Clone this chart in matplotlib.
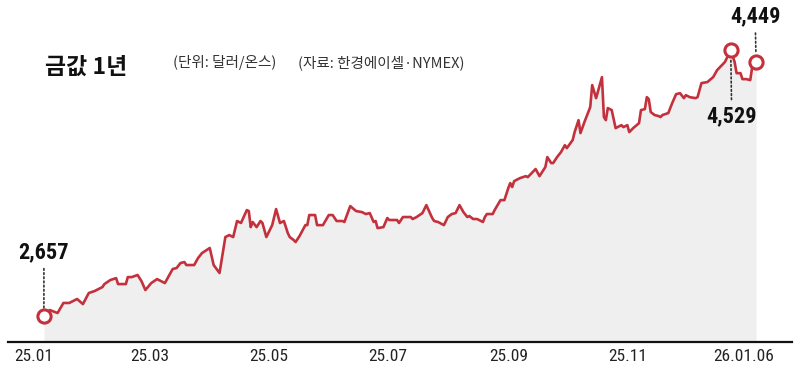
import matplotlib
matplotlib.use("Agg")
import matplotlib.pyplot as plt
from matplotlib import font_manager
from matplotlib.transforms import ScaledTranslation

# ------------------------------------------------------------------
# DATI: prezzo dell'oro (dollari/oncia), giorni dal 2025-01-01
# ------------------------------------------------------------------
days = [5, 8, 12, 15, 18, 22, 25, 28, 31, 35, 36, 39, 42, 43, 47, 48, 50, 53, 55, 57,
        60, 63, 67, 71, 73, 75, 77, 78, 82, 84, 86, 90, 92, 95, 98, 100, 102, 104, 106,
        109, 110, 111, 112, 114, 116, 117, 119, 122, 124, 126, 128, 130, 131, 133, 134,
        136, 139, 140, 141, 144, 145, 148, 151, 153, 155, 158, 159, 162, 165, 168, 170,
        172, 174, 175, 176, 179, 181, 182, 186, 187, 189, 193, 194, 196, 199, 201, 204,
        205, 207, 210, 212, 214, 216, 218, 220, 222, 223, 225, 227, 230, 231, 232, 235,
        236, 239, 241, 243, 244, 245, 246, 249, 252, 253, 256, 257, 259, 262, 263, 265,
        266, 268, 270, 272, 273, 276, 277, 279, 280, 282, 285, 286, 288, 291, 292, 293,
        294, 296, 298, 299, 301, 302, 304, 305, 307, 310, 311, 313, 314, 315, 316, 318,
        320, 321, 322, 325, 327, 329, 331, 333, 334, 336, 339, 340, 342, 345, 348, 350,
        354, 357, 359, 360, 362, 363, 365, 367, 368, 370]
price = [2657, 2699, 2678, 2749, 2749, 2777, 2741, 2819, 2833, 2861, 2882, 2910, 2924, 2882,
         2882, 2931, 2931, 2946, 2903, 2840, 2889, 2917, 2889, 2988, 2995, 3030, 3037, 3016,
         3016, 3065, 3100, 3136, 3016, 2960, 3213, 3227, 3213, 3326, 3312, 3403, 3396, 3283,
         3319, 3283, 3326, 3312, 3213, 3297, 3410, 3312, 3326, 3241, 3213, 3192, 3178, 3220,
         3297, 3297, 3368, 3368, 3297, 3297, 3368, 3368, 3326, 3326, 3319, 3431, 3396, 3389,
         3375, 3382, 3319, 3326, 3276, 3283, 3347, 3333, 3333, 3312, 3354, 3354, 3340, 3354,
         3382, 3438, 3347, 3326, 3319, 3297, 3354, 3375, 3382, 3438, 3389, 3354, 3361, 3340,
         3340, 3319, 3354, 3375, 3375, 3403, 3473, 3473, 3558, 3593, 3565, 3607, 3628, 3642,
         3635, 3678, 3692, 3642, 3706, 3776, 3734, 3734, 3776, 3811, 3860, 3839, 3896, 3952,
         4036, 3945, 4022, 4128, 4283, 4191, 4339, 4058, 4036, 4121, 4107, 3980, 3987, 4001,
         3987, 4001, 3952, 3980, 4015, 4107, 4114, 4198, 4184, 4093, 4072, 4065, 4058, 4072,
         4086, 4156, 4219, 4226, 4191, 4212, 4198, 4191, 4198, 4297, 4304, 4339, 4388, 4445,
         4529, 4445, 4367, 4367, 4325, 4325, 4318, 4409, 4449]

tick_days = [0, 59, 120, 181, 243, 304, 370]
tick_labels = ["25.01", "25.03", "25.05", "25.07", "25.09", "25.11", "26.01.06"]

title = "금값 1년"
unit_note = "(단위: 달러/온스)"
source_note = "(자료: 한경에이셀·NYMEX)"

# ------------------------------------------------------------------
# FONT
# ------------------------------------------------------------------
names = {f.name for f in font_manager.fontManager.ttflist}
num_font = "Liberation Sans"
for cand in ["Roboto Condensed", "Archivo Narrow", "Liberation Sans Narrow",
             "Barlow Semi Condensed"]:
    if cand in names:
        num_font = cand
        break
kr_font = ["Noto Sans CJK KR", "DejaVu Sans"]

RED = "#c3313d"
FILL = "#efefef"

# ------------------------------------------------------------------
# GRAFICO
# ------------------------------------------------------------------
fig = plt.figure(figsize=(8, 3.83), dpi=100)
ax = fig.add_axes([0.01, 0.107, 0.98, 0.893])

ax.fill_between(days, price, 2474, color=FILL, lw=0, zorder=1)
ax.plot(days, price, color=RED, lw=1.9, zorder=3)

ax.set_xlim(-13.4, 388.4)
ax.set_ylim(2474, 4882)

for s in ["top", "right", "left"]:
    ax.spines[s].set_visible(False)
ax.spines["bottom"].set_linewidth(1.6)
ax.spines["bottom"].set_color("#111111")
ax.set_yticks([])
ax.set_xticks(tick_days)
ax.set_xticklabels(tick_labels, fontfamily=num_font, fontsize=12.5, color="#222222")
ax.tick_params(axis="x", length=0, pad=5)
# l'ultima etichetta è spostata leggermente a sinistra
last = ax.get_xticklabels()[-1]
last.set_transform(last.get_transform() + ScaledTranslation(-0.12, 0, fig.dpi_scale_trans))

# punti evidenziati: inizio, fine, massimo
peak = price.index(max(price))
marks = [(0, (0, 64)), (len(days) - 1, (-1, 45)), (peak, (1, -66))]
for i, off in marks:
    ax.plot(days[i], price[i], "o", ms=9.5, mfc="white", mec=RED, mew=2.2, zorder=5)
    ax.annotate(f"{price[i]:,}", xy=(days[i], price[i]), xytext=off,
                textcoords="offset pixels", ha="center", va="center",
                fontfamily=num_font, fontsize=16, fontweight="bold", color="#111111",
                annotation_clip=False, zorder=6,
                arrowprops=dict(arrowstyle="-", linestyle=(0, (1, 1.5)), color="#333333",
                                lw=1.2, shrinkA=2, shrinkB=6))

fig.text(45 / 800, 1 - 67 / 383, title, fontfamily=kr_font, fontsize=16.5,
         fontweight="heavy", color="#111111", va="center", ha="left")
fig.text(173 / 800, 1 - 63 / 383, unit_note, fontfamily=kr_font, fontsize=10.5,
         color="#333333", va="center", ha="left")
fig.text(298 / 800, 1 - 63 / 383, source_note, fontfamily=kr_font, fontsize=10.5,
         color="#333333", va="center", ha="left")

plt.savefig("out.png", dpi=100)
